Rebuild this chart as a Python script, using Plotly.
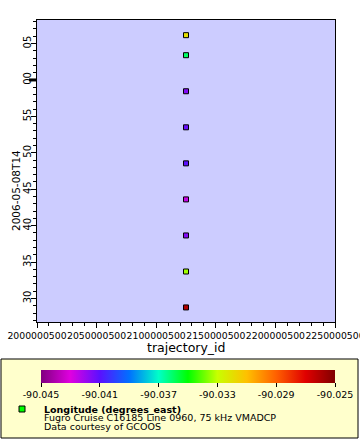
import plotly.graph_objects as go

# ---- data ----
times = ['2006-05-08 14:28:46', '2006-05-08 14:33:42', '2006-05-08 14:38:39',
         '2006-05-08 14:43:36', '2006-05-08 14:48:33', '2006-05-08 14:53:30',
         '2006-05-08 14:58:27', '2006-05-08 15:03:24', '2006-05-08 15:06:09']
trajectory_ids = [2125000500] * 9
longitudes = [-90.026, -90.0334, -90.0416, -90.0426, -90.041, -90.0412,
              -90.0416, -90.036, -90.032]

x_ticks = [2000000500, 2050000500, 2100000500, 2150000500, 2200000500, 2250000500]
x_ticktext = [str(v) for v in x_ticks]
y_ticks = ['2006-05-08 14:30', '2006-05-08 14:35', '2006-05-08 14:40', '2006-05-08 14:45',
           '2006-05-08 14:50', '2006-05-08 14:55', '2006-05-08 15:00', '2006-05-08 15:05']
y_ticktext = ['30', '35', '40', '45', '50', '55', '00', '05']
cb_ticks = [-90.045, -90.041, -90.037, -90.033, -90.029, -90.025]
cb_ticktext = ['-90.045', '-90.041', '-90.037', '-90.033', '-90.029', '-90.025']

rainbow = [[0.0, '#800080'], [0.1, '#e000e0'], [0.2, '#5a10ff'], [0.3, '#0070ff'],
           [0.4, '#00ffc8'], [0.5, '#00ff00'], [0.6, '#c8ff00'], [0.7, '#ffc000'],
           [0.8, '#ff6000'], [0.9, '#e00000'], [1.0, '#800000']]

FONT = 'DejaVu Sans'
W, H = 360, 440
L, R, T, B = 37, 335, 20, 322


def px2x(px):
    return (px - L) / (R - L)


def px2y(py):
    return (B - py) / (B - T)


fig = go.Figure()
fig.add_trace(go.Scatter(
    x=trajectory_ids, y=times, mode='markers',
    marker=dict(symbol='square', size=5, color=longitudes, colorscale=rainbow,
                cmin=-90.045, cmax=-90.025, line=dict(color='black', width=1),
                colorbar=dict(orientation='h', thickness=13, thicknessmode='pixels',
                              len=294, lenmode='pixels', x=px2x(188), xanchor='center',
                              y=px2y(370), yanchor='top', ypad=0, xpad=0,
                              outlinewidth=0, ticks='outside', ticklen=4,
                              tickcolor='black', tickvals=cb_ticks, ticktext=cb_ticktext,
                              tickfont=dict(family=FONT, size=9.5, color='black'))),
    showlegend=False, hoverinfo='skip'))

fig.update_layout(
    width=W, height=H, margin=dict(l=L, r=W - R, t=T, b=H - B, pad=0),
    paper_bgcolor='white', plot_bgcolor='#ccccff',
    font=dict(family=FONT, color='black'),
    xaxis=dict(range=[2000000500, 2250000500], tickvals=x_ticks, ticktext=x_ticktext,
               tickangle=0,
               ticks='outside', ticklen=5, tickcolor='black', showgrid=False, zeroline=False,
               showline=True, mirror=True, linecolor='black', linewidth=1,
               ticklabeloverflow='allow', automargin=False,
               tickfont=dict(family=FONT, size=9.3, color='black'),
               minor=dict(dtick=10000000, tick0=2000000500, ticks='outside', ticklen=3,
                          tickcolor='black', showgrid=False)),
    yaxis=dict(type='date', range=['2006-05-08 14:26:46', '2006-05-08 15:08:14'],
               tickvals=y_ticks, ticktext=y_ticktext, tickangle=-90, ticklabelstandoff=-4,
               ticks='outside', ticklen=5, tickcolor='black', showgrid=False, zeroline=False,
               showline=True, mirror=True, linecolor='black', linewidth=1, automargin=False,
               tickfont=dict(family=FONT, size=10, color='black'),
               minor=dict(dtick=60000, tick0='2006-05-08 14:00', ticks='outside', ticklen=3,
                          tickcolor='black', showgrid=False)),
)

shapes = [
    dict(type='rect', xref='paper', yref='paper', x0=px2x(1), x1=px2x(358),
         y0=px2y(438), y1=px2y(359), fillcolor='#ffffcc', line=dict(color='black', width=1),
         layer='below'),
    dict(type='line', xref='paper', yref='y', x0=px2x(29), x1=0,
         y0='2006-05-08 15:00', y1='2006-05-08 15:00', line=dict(color='black', width=3)),
    dict(type='rect', xref='paper', yref='paper', x0=px2x(19), x1=px2x(25),
         y0=px2y(412), y1=px2y(406), fillcolor='#00ff00', line=dict(color='black', width=1)),
]
fig.update_layout(shapes=shapes)

ann = [
    dict(text='trajectory_id', x=0.5, y=px2y(347), xref='paper', yref='paper',
         xanchor='center', yanchor='middle', showarrow=False,
         font=dict(family=FONT, size=12.5, color='black')),
    dict(text='2006-05-08T14', x=px2x(16), y=px2y(191), xref='paper', yref='paper',
         xanchor='center', yanchor='middle', textangle=-90, showarrow=False,
         font=dict(family=FONT, size=10.5, color='black')),
    dict(text='<b>Longitude (degrees_east)</b>', x=px2x(42), y=px2y(409), xref='paper',
         yref='paper', xanchor='left', yanchor='middle', showarrow=False,
         font=dict(family=FONT, size=9.5, color='black')),
    dict(text='Fugro Cruise C16185 Line 0960, 75 kHz VMADCP', x=px2x(42), y=px2y(417.7),
         xref='paper', yref='paper', xanchor='left', yanchor='middle', showarrow=False,
         font=dict(family=FONT, size=9.5, color='black')),
    dict(text='Data courtesy of GCOOS', x=px2x(42), y=px2y(426.3), xref='paper',
         yref='paper', xanchor='left', yanchor='middle', showarrow=False,
         font=dict(family=FONT, size=9.5, color='black')),
]
fig.update_layout(annotations=ann)

fig.write_html('out.html', config={'displayModeBar': False},
               post_script="document.body.style.margin='0';")
